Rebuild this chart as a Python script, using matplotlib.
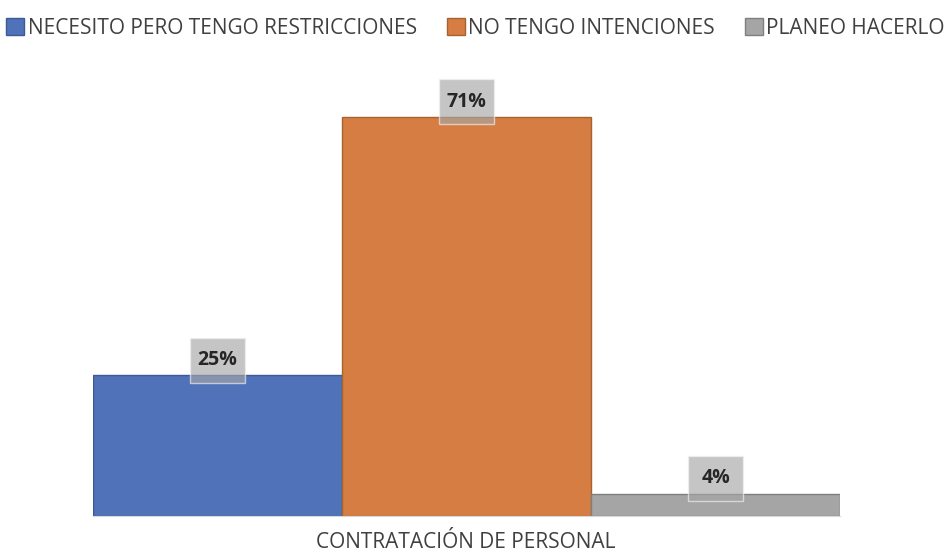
import numpy as np
import matplotlib.pyplot as plt
from matplotlib.patches import Rectangle

series = ['NECESITO PERO TENGO RESTRICCIONES', 'NO TENGO INTENCIONES', 'PLANEO HACERLO']
values = [25, 71, 4]
labels = ['25%', '71%', '4%']
category = 'CONTRATACIÓN DE PERSONAL'
colors = ['#4f72b8', '#d57d42', '#a5a5a5']
edges = ['#3d5a93', '#a8622f', '#7f7f7f']

plt.rcParams['font.family'] = ['Open Sans', 'DejaVu Sans']

fig = plt.figure(figsize=(9.51, 5.54), dpi=100)
ax = fig.add_axes([93/951, 38/554, (840-93)/951, 0.812])

x = np.arange(len(series))
bars = ax.bar(x, values, width=1.0, color=colors, edgecolor=edges, linewidth=1.0)

# data labels in translucent gray boxes
for xi, v, t in zip(x, values, labels):
    ax.add_patch(Rectangle((xi - 0.112, v - 1.3), 0.224, 8.0, facecolor='#a6a6a6',
                           alpha=0.65, edgecolor='#f2f2f2', linewidth=1, zorder=3))
    ax.text(xi, v + 2.7, t, ha='center', va='center', fontsize=14, fontweight='bold',
            color='#262626', zorder=4)

ax.set_xlim(-0.5, 2.5)
ax.set_ylim(0, 80)
ax.set_xticks([])
ax.set_yticks([])
for sp in ['top', 'right', 'left']:
    ax.spines[sp].set_visible(False)
ax.spines['bottom'].set_color('#d9d9d9')

fig.text(466/951, 1 - 548/554, category, ha='center', va='baseline', fontsize=15, color='#404040')

fig.legend(handles=list(bars), labels=series, loc='center', bbox_to_anchor=(0.5, 1 - 28/554),
           ncol=3, frameon=False, fontsize=15, handlelength=0.87, handleheight=0.87,
           handletextpad=0.15, columnspacing=1.45, labelcolor='#404040')

fig.savefig('out.png', dpi=100)
